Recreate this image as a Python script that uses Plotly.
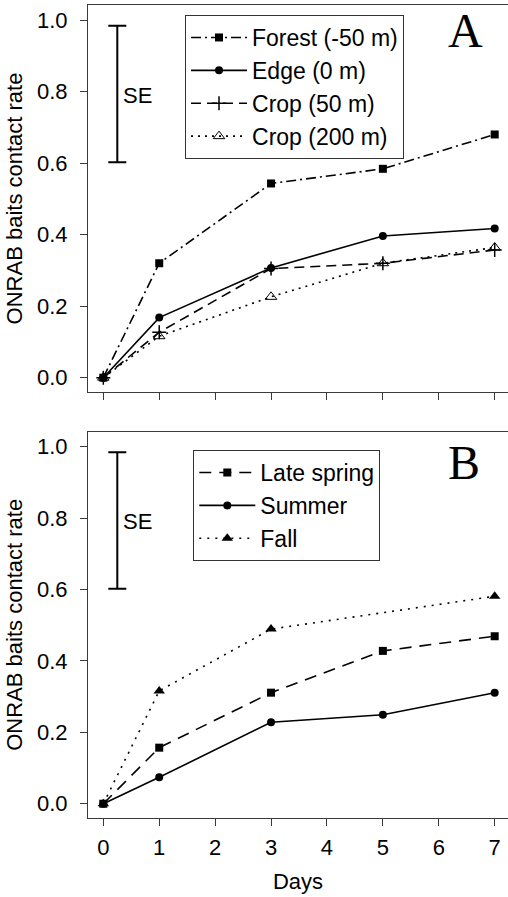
import plotly.graph_objects as go

# ---- data ----
days = [0, 1, 3, 5, 7]
x_ticks = [0, 1, 2, 3, 4, 5, 6, 7]
y_ticks = [0.0, 0.2, 0.4, 0.6, 0.8, 1.0]
y_tick_labels = ["0.0", "0.2", "0.4", "0.6", "0.8", "1.0"]

# Panel A: distance from forest edge
forest = [0.0, 0.32, 0.543, 0.584, 0.680]
edge = [0.0, 0.168, 0.307, 0.396, 0.417]
crop50 = [0.0, 0.127, 0.305, 0.320, 0.357]
crop200 = [0.0, 0.116, 0.226, 0.320, 0.364]

# Panel B: season
late_spring = [0.0, 0.157, 0.311, 0.428, 0.469]
summer = [0.0, 0.074, 0.228, 0.249, 0.311]
fall = [0.0, 0.316, 0.489, None, 0.581]

# SE reference bar (centre and half-length)
se_x = [0.25]
se_mid = [0.793]
se_half = [0.191]

FONT = "Liberation Sans, Arial, sans-serif"
FS = 22
LFS = 23
AX = "#3a3a3a"

fig = go.Figure()

def add_series(x, y, name, dash, symbol, msize, xa, ya, legend, mline=0):
    fig.add_trace(go.Scatter(
        x=x, y=y, name=name, mode="lines+markers",
        line=dict(color="black", width=1.6, dash=dash),
        marker=dict(symbol=symbol, size=msize, color="black",
                    line=dict(color="black", width=mline)),
        connectgaps=True, xaxis=xa, yaxis=ya, legend=legend,
    ))

add_series(days, forest, "Forest (-50 m)", "10px,4px,2px,4px", "square", 8, "x", "y", "legend")
add_series(days, edge, "Edge (0 m)", "solid", "circle", 8, "x", "y", "legend")
add_series(days, crop50, "Crop (50 m)", "10px,6px", "cross-thin-open", 10, "x", "y", "legend", 1.5)
add_series(days, crop200, "Crop (200 m)", "2px,5px", "triangle-up-open", 10, "x", "y", "legend", 1)

add_series(days, late_spring, "Late spring", "12px,8px", "square", 8, "x2", "y2", "legend2")
add_series(days, summer, "Summer", "solid", "circle", 8, "x2", "y2", "legend2")
add_series(days, fall, "Fall", "2px,6px", "triangle-up", 10, "x2", "y2", "legend2")

for xa, ya in (("x", "y"), ("x2", "y2")):
    fig.add_trace(go.Scatter(
        x=se_x, y=se_mid, mode="markers", showlegend=False, hoverinfo="skip",
        marker=dict(size=1, color="rgba(0,0,0,0)"),
        error_y=dict(type="data", array=se_half, symmetric=True,
                     color="black", thickness=2, width=9),
        xaxis=xa, yaxis=ya,
    ))

common_x = dict(range=[-0.274, 7.238], tickvals=x_ticks, ticks="outside", ticklen=7,
                tickcolor=AX, showline=True, linecolor=AX, linewidth=1, mirror=True,
                showgrid=False, zeroline=False, automargin=False,
                tickfont=dict(family=FONT, size=FS, color="black"))
common_y = dict(range=[-0.04, 1.042], tickvals=y_ticks, ticktext=y_tick_labels,
                ticks="outside", ticklen=7, tickcolor=AX, showline=True, linecolor=AX,
                linewidth=1, showgrid=False, zeroline=False, ticklabelstandoff=8,
                automargin=False,
                tickfont=dict(family=FONT, size=FS, color="black"),
                title=dict(text="ONRAB baits contact rate", standoff=8,
                           font=dict(family=FONT, size=FS, color="black")))

legend_common = dict(xanchor="left", yanchor="top", bgcolor="white", bordercolor="#333",
                     borderwidth=1, font=dict(family=FONT, size=LFS, color="black"),
                     itemwidth=56)

fig.update_layout(
    width=508, height=897,
    margin=dict(l=88, r=0, t=5, b=79),
    paper_bgcolor="white", plot_bgcolor="white",
    font=dict(family=FONT, size=FS, color="black"),
    xaxis=dict(common_x, domain=[0, 1], anchor="y", showticklabels=False),
    yaxis=dict(common_y, domain=[0.524, 1], anchor="x"),
    xaxis2=dict(common_x, domain=[0, 1], anchor="y2", showticklabels=True,
                ticklabelstandoff=3,
                title=dict(text="Days", standoff=14,
                           font=dict(family=FONT, size=FS, color="black"))),
    yaxis2=dict(common_y, domain=[0, 0.4752], anchor="x2"),
    legend=dict(legend_common, x=0.231, y=0.9877),
    legend2=dict(legend_common, x=0.2507, y=0.4526),
    showlegend=True,
)

fig.add_annotation(x=0.32, y=0.79, xref="x", yref="y", text="SE", showarrow=False,
                   xanchor="left", yanchor="middle", font=dict(family=FONT, size=FS))
fig.add_annotation(x=0.32, y=0.79, xref="x2", yref="y2", text="SE", showarrow=False,
                   xanchor="left", yanchor="middle", font=dict(family=FONT, size=FS))
fig.add_annotation(x=6.48, y=0.97, xref="x", yref="y", text="A", showarrow=False,
                   xanchor="center", yanchor="middle",
                   font=dict(family="Liberation Serif, Times New Roman, serif", size=48))
fig.add_annotation(x=6.45, y=0.956, xref="x2", yref="y2", text="B", showarrow=False,
                   xanchor="center", yanchor="middle",
                   font=dict(family="Liberation Serif, Times New Roman, serif", size=48))

fig.write_html("out.html",
               config={"displayModeBar": False},
               post_script="document.body.style.margin='0px';document.body.style.overflow='hidden';")
